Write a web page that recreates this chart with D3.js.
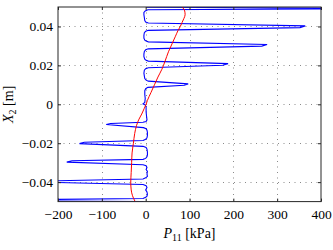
<!DOCTYPE html>
<html>
<head>
<meta charset="utf-8">
<script src="https://cdn.jsdelivr.net/npm/d3@7"></script>
<style>
  html, body { margin: 0; padding: 0; background: #ffffff; }
  svg { display: block; }
</style>
</head>
<body>
<div id="chart"></div>
<script>
// tick values
const xTicks = [-200, -100, 0, 100, 200, 300, 400];
const yTicks = [-0.04, -0.02, 0, 0.02, 0.04];

// blue curve: [X2 (m), P11 (kPa)] top to bottom
const blueCurve = [
  [0.0499, 2], [0.0494, 460], [0.0491, 450], [0.0486, 5],
  [0.0480, -1], [0.0472, -4], [0.0460, -4], [0.0445, -3], [0.0430, -2], [0.0423, 0], [0.0418, 6],
  [0.0403, 364], [0.0394, 352], [0.0380, 6],
  [0.0375, 0], [0.0368, -3], [0.0355, -4], [0.0340, -4], [0.0330, -2], [0.0325, 1], [0.0321, 6],
  [0.0307, 277], [0.0299, 265], [0.0285, 6],
  [0.0280, 0], [0.0272, -3], [0.0258, -4], [0.0245, -4], [0.0232, -2], [0.0226, 1], [0.0222, 6],
  [0.0209, 188], [0.0201, 176], [0.0188, 6],
  [0.0183, 0], [0.0175, -3], [0.0160, -4], [0.0145, -3], [0.0132, -2], [0.0124, 1], [0.0119, 6],
  [0.0105, 97], [0.0098, 88], [0.0087, 5],
  [0.0080, 0], [0.0070, -2], [0.0050, -2], [0.0030, -1], [0.0010, -2], [0.0002, -6], [-0.0003, -1],
  [-0.0015, 1], [-0.0040, 1], [-0.0060, 2], [-0.0080, 3], [-0.0088, 1], [-0.0092, -6],
  [-0.0099, -80], [-0.0104, -90], [-0.0120, -5],
  [-0.0125, 1], [-0.0133, 3], [-0.0145, 4], [-0.0160, 4], [-0.0172, 3], [-0.0180, 0], [-0.0186, -6],
  [-0.0195, -140], [-0.0202, -151], [-0.0216, -6],
  [-0.0222, 1], [-0.0230, 3], [-0.0245, 4], [-0.0260, 4], [-0.0270, 3], [-0.0278, 0], [-0.0283, -6],
  [-0.0290, -168], [-0.0297, -180], [-0.0311, -6],
  [-0.0316, 1], [-0.0325, 3], [-0.0335, 1], [-0.0345, 4], [-0.0358, 3], [-0.0370, 4], [-0.0378, 0], [-0.0384, -6],
  [-0.0394, -230], [-0.0400, -240], [-0.0412, -6],
  [-0.0418, 1], [-0.0428, 3], [-0.0440, 0], [-0.0450, 3], [-0.0462, 4], [-0.0472, 3], [-0.0478, 0], [-0.0484, -6],
  [-0.0490, -250], [-0.0496, -260], [-0.0500, -5]
];

// red curve: [X2 (m), P11 (kPa)]
const redCurve = [
  [0.0500, 83], [0.0480, 89], [0.0460, 90], [0.0440, 87], [0.0420, 83], [0.0400, 79],
  [0.0380, 74], [0.0350, 68], [0.0310, 60], [0.0270, 52], [0.0220, 44], [0.0180, 37],
  [0.0140, 28], [0.0100, 20], [0.0060, 12], [0.0020, 4], [0.0000, 1], [-0.0020, -3],
  [-0.0050, -9], [-0.0080, -16], [-0.0110, -21], [-0.0150, -25], [-0.0200, -28],
  [-0.0250, -31], [-0.0300, -32], [-0.0350, -33], [-0.0400, -34], [-0.0440, -33],
  [-0.0470, -30], [-0.0500, -24]
];

const width = 333, height = 250;
const m = { left: 58, right: 321, top: 7, bottom: 201.6 };
const font = "'Liberation Serif', 'DejaVu Serif', serif";

const x = d3.scaleLinear().domain([-200, 400]).range([m.left, m.right]);
const y = d3.scaleLinear().domain([-0.05, 0.05]).range([m.bottom, m.top]);

const svg = d3.select("#chart").append("svg")
  .attr("width", width)
  .attr("height", height)
  .style("background", "#fff");

svg.append("defs").append("clipPath").attr("id", "plot-clip")
  .append("rect")
  .attr("x", m.left).attr("y", m.top)
  .attr("width", m.right - m.left).attr("height", m.bottom - m.top);

// dotted grid
const grid = svg.append("g").attr("stroke", "#8a8a8a").attr("stroke-dasharray", "1,4.5");
grid.selectAll("line.gx").data(xTicks.slice(1, -1)).join("line")
  .attr("x1", d => Math.round(x(d)) + 0.5).attr("x2", d => Math.round(x(d)) + 0.5)
  .attr("y1", m.top).attr("y2", m.bottom);
grid.selectAll("line.gy").data(yTicks).join("line")
  .attr("y1", d => Math.round(y(d)) + 0.5).attr("y2", d => Math.round(y(d)) + 0.5)
  .attr("x1", m.left).attr("x2", m.right);

const line = d3.line().x(d => x(d[1])).y(d => y(d[0]));

const plot = svg.append("g").attr("clip-path", "url(#plot-clip)");
plot.append("path").datum(blueCurve)
  .attr("d", line)
  .attr("fill", "none").attr("stroke", "#0000ff").attr("stroke-width", 1.1);
plot.append("path").datum(redCurve)
  .attr("d", line.curve(d3.curveMonotoneY))
  .attr("fill", "none").attr("stroke", "#ff0000").attr("stroke-width", 1);

// axes with inward ticks
const yFmt = d => d === 0 ? "0" : d3.format(".2f")(d);

function styleAxis(g) {
  g.select(".domain").remove();
  g.attr("font-family", null).attr("font-size", null);
  g.selectAll("line").attr("stroke", "#262626");
  g.selectAll("text").attr("fill", "#000").style("font-family", font).style("font-size", "13.5px");
}

svg.append("g").attr("transform", `translate(0,${m.bottom})`)
  .call(d3.axisBottom(x).tickValues(xTicks).tickFormat(d3.format("d")).tickSizeInner(-3).tickSizeOuter(0).tickPadding(8))
  .call(styleAxis);
svg.append("g").attr("transform", `translate(${m.left},0)`)
  .call(d3.axisLeft(y).tickValues(yTicks).tickFormat(yFmt).tickSizeInner(-3).tickSizeOuter(0).tickPadding(5))
  .call(styleAxis);
svg.append("g").attr("transform", `translate(0,${m.top})`)
  .call(d3.axisTop(x).tickValues(xTicks).tickFormat("").tickSizeInner(-3).tickSizeOuter(0))
  .call(styleAxis);
svg.append("g").attr("transform", `translate(${m.right},0)`)
  .call(d3.axisRight(y).tickValues(yTicks).tickFormat("").tickSizeInner(-3).tickSizeOuter(0))
  .call(styleAxis);

// frame
svg.append("rect")
  .attr("x", m.left).attr("y", m.top)
  .attr("width", m.right - m.left).attr("height", m.bottom - m.top)
  .attr("fill", "none").attr("stroke", "#262626").attr("stroke-width", 1);

// axis labels
const xl = svg.append("text")
  .attr("x", (m.left + m.right) / 2).attr("y", 238)
  .attr("text-anchor", "middle")
  .style("font-family", font).style("font-size", "14px");
xl.append("tspan").attr("font-style", "italic").text("P");
xl.append("tspan").attr("font-size", "10px").attr("dy", 3).text("11");
xl.append("tspan").attr("dy", -3).text(" [kPa]");

const yl = svg.append("text")
  .attr("transform", `translate(13,${(m.top + m.bottom) / 2}) rotate(-90)`)
  .attr("text-anchor", "middle")
  .style("font-family", font).style("font-size", "14px");
yl.append("tspan").attr("font-style", "italic").text("X");
yl.append("tspan").attr("font-size", "10px").attr("dy", 3).text("2");
yl.append("tspan").attr("dy", -3).text(" [m]");
</script>
</body>
</html>
